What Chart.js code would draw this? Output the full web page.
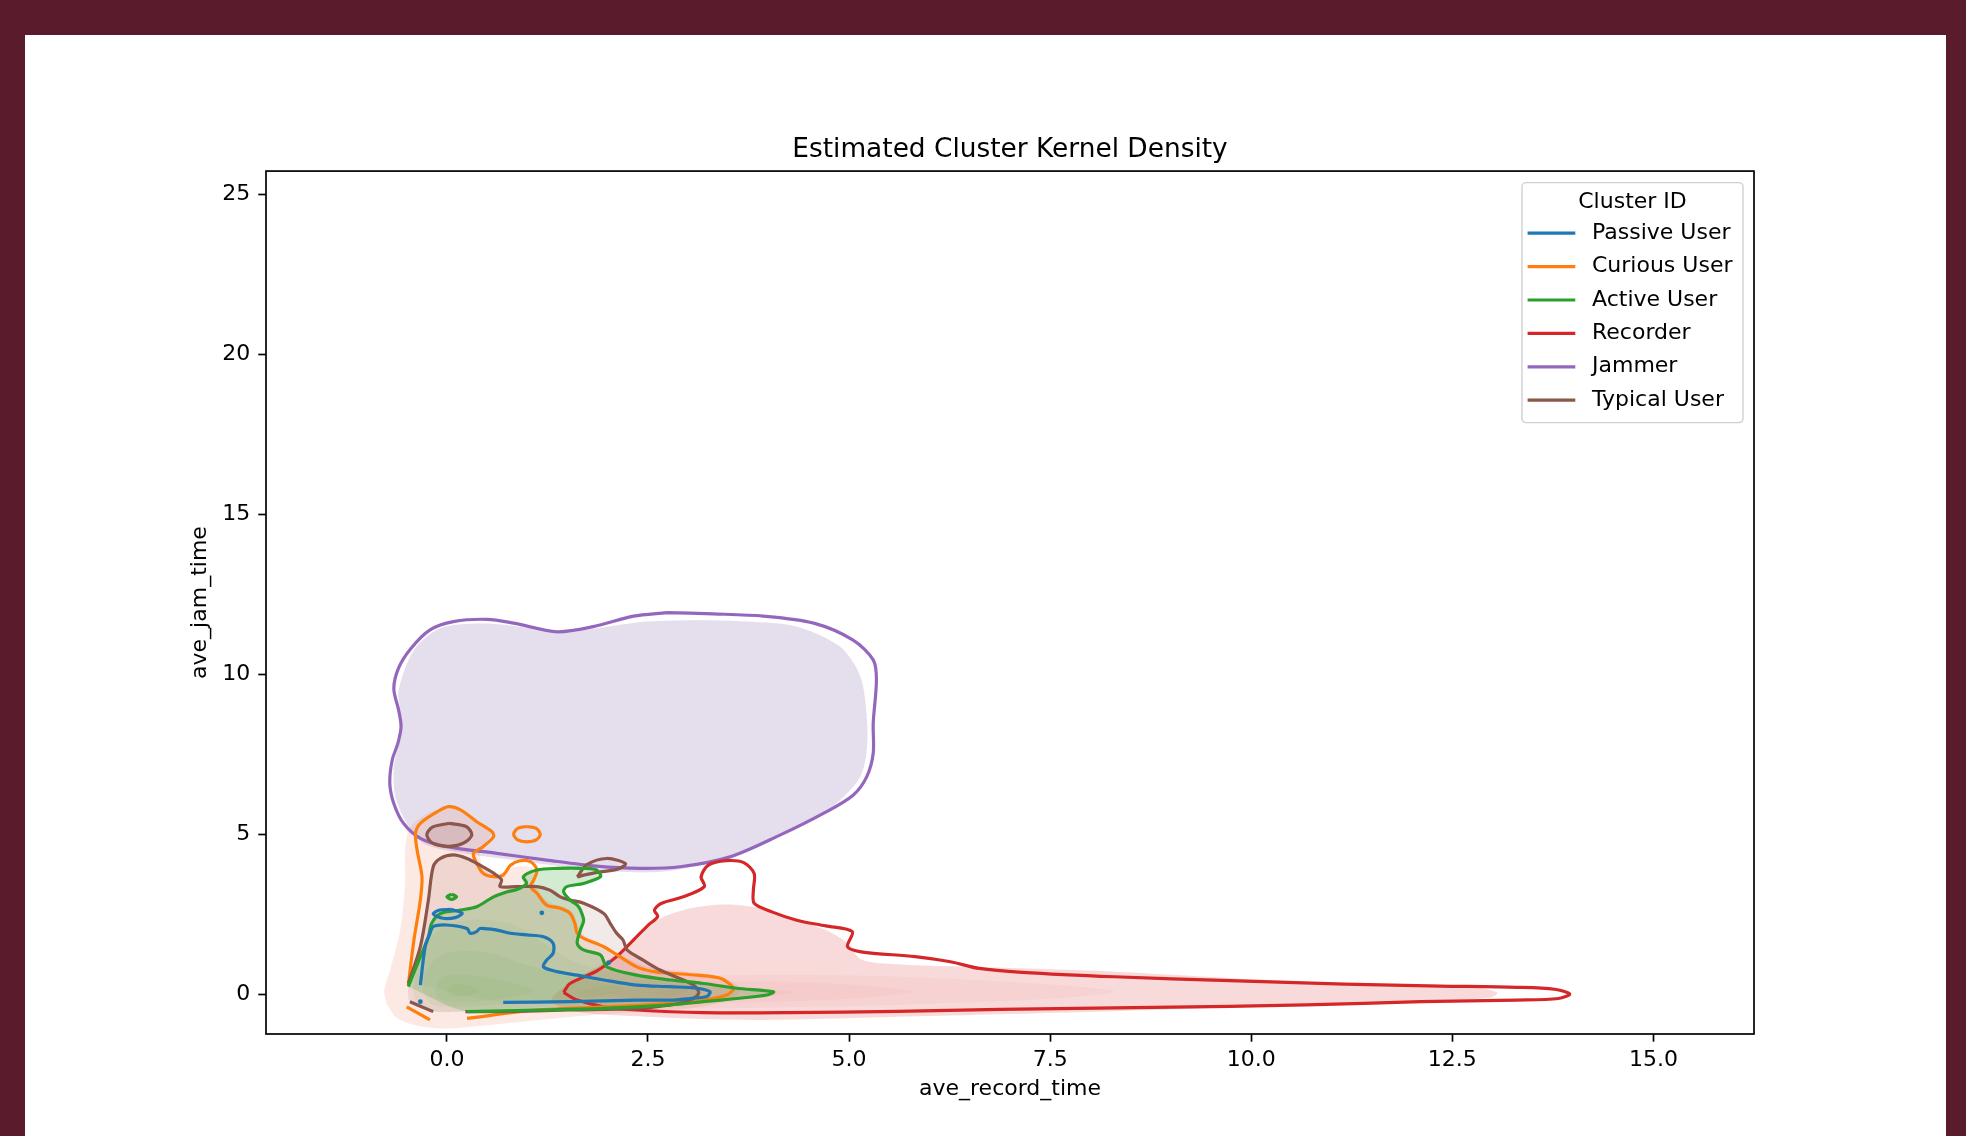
<!DOCTYPE html>
<html>
<head>
<meta charset="utf-8">
<script src="https://cdn.jsdelivr.net/npm/chart.js@4.4.0/dist/chart.umd.min.js"></script>
<style>
  html, body { margin: 0; padding: 0; background: #5a1b2c; }
  .page { position: relative; width: 1966px; height: 1136px; overflow: hidden; }
  .card { position: absolute; left: 25px; top: 35px; width: 1921px; height: 1101px; background: #fff; }
  #kde { position: absolute; left: 0; top: 0; }
</style>
</head>
<body>
<div class="page">
  <div class="card"></div>
  <canvas id="kde" width="1966" height="1136"></canvas>
</div>
<script>
// 축 눈금
const xTicks = [0, 2.5, 5, 7.5, 10, 12.5, 15];
const yTicks = [0, 5, 10, 15, 20, 25];

// 클러스터 이름/색
const clusterNames = ['Passive User', 'Curious User', 'Active User', 'Recorder', 'Jammer', 'Typical User'];
const clusterColors = ['#1f77b4', '#ff7f0e', '#2ca02c', '#d62728', '#9467bd', '#8c564b'];

// 윤곽선 (x, y) - null 은 선이 끊기는 곳
const passiveLine = [[-0.33,0.28],[-0.27,1.48],[-0.21,1.90],[-0.17,2.11],[0.00,2.16],[0.25,2.05],[0.29,1.90],[0.37,1.95],[0.41,2.05],[0.62,2.00],[0.79,1.90],[0.99,1.85],[1.20,1.79],[1.32,1.59],[1.32,1.27],[1.24,1.06],[1.20,0.85],[1.37,0.70],[1.62,0.59],[1.95,0.44],[2.36,0.28],[2.78,0.23],[3.11,0.18],[3.27,0.07],[3.23,-0.08],[3.02,-0.14],[2.78,-0.19],[2.36,-0.19],[1.53,-0.24],[0.70,-0.26]];
const passiveLoop = [[0.05,2.65],[0.19,2.53],[0.10,2.39],[-0.05,2.37],[-0.17,2.50],[-0.10,2.62],[0.05,2.65]];
const passiveDots = [[1.18,2.54],[2.01,0.98],[-0.33,-0.24]];

const curiousLine = [[-0.48,0.28],[-0.41,1.69],[-0.33,2.94],[-0.31,3.67],[-0.37,4.50],[-0.39,5.03],[-0.33,5.34],[-0.12,5.70],[0.02,5.86],[0.17,5.76],[0.37,5.39],[0.56,5.08],[0.58,4.92],[0.45,4.61],[0.33,4.40],[0.37,4.09],[0.45,3.78],[0.58,3.67],[0.70,3.72],[0.79,4.03],[0.91,4.17],[1.04,4.14],[1.12,3.88],[1.08,3.57],[1.04,3.36],[1.12,3.15],[1.24,2.78],[1.41,2.68],[1.53,2.52],[1.59,2.21],[1.62,1.90],[1.70,1.74],[1.95,1.48],[2.15,1.17],[2.36,0.85],[2.57,0.70],[2.78,0.65],[3.11,0.59],[3.40,0.49],[3.56,0.18],[3.48,-0.03],[3.19,-0.19],[2.78,-0.29],[1.95,-0.40],[1.12,-0.50],[0.25,-0.76],null,[-0.21,-0.81],[-0.50,-0.40]];
const curiousLoop = [[0.99,5.24],[1.11,5.18],[1.16,5.00],[1.11,4.82],[0.99,4.76],[0.88,4.82],[0.83,5.00],[0.88,5.18],[0.99,5.24]];

const activeLine = [[-0.48,0.23],[-0.33,1.17],[-0.23,1.79],[-0.19,2.21],[-0.08,2.52],[0.17,2.63],[0.37,2.73],[0.58,3.04],[0.75,3.20],[0.87,3.27],[0.99,3.46],[0.95,3.67],[1.12,3.88],[1.37,3.93],[1.70,3.93],[1.86,3.88],[1.91,3.67],[1.70,3.46],[1.49,3.36],[1.45,3.20],[1.53,2.94],[1.62,2.78],[1.66,2.63],[1.70,2.31],[1.66,2.00],[1.62,1.59],[1.70,1.38],[1.91,1.22],[1.99,0.85],[2.36,0.59],[2.78,0.44],[3.19,0.33],[3.60,0.18],[4.06,0.07],[3.98,-0.03],[3.60,-0.14],[3.19,-0.24],[2.78,-0.34],[1.95,-0.45],[1.12,-0.50],[0.25,-0.55]];
const activeLoop = [[0.06,3.12],[0.12,3.04],[0.06,2.96],[0.00,3.04],[0.06,3.12]];

const recorderLine = [[1.45,0.05],[1.53,0.33],[1.86,0.72],[2.11,1.17],[2.32,1.69],[2.50,2.15],[2.62,2.42],[2.58,2.63],[2.67,2.84],[2.94,3.04],[3.20,3.36],[3.16,3.67],[3.25,4.03],[3.47,4.17],[3.69,4.11],[3.82,3.77],[3.81,3.25],[3.82,2.84],[4.04,2.57],[4.35,2.31],[4.71,2.13],[5.04,1.95],[4.98,1.48],[5.15,1.32],[5.82,1.17],[6.26,1.01],[6.62,0.80],[7.15,0.68],[8.30,0.54],[9.73,0.42],[11.16,0.31],[12.35,0.25],[13.30,0.21],[13.77,0.15],[13.96,0.00],[13.82,-0.14],[13.30,-0.19],[12.11,-0.24],[10.68,-0.34],[8.78,-0.42],[6.88,-0.48],[5.60,-0.54],[4.24,-0.58],[3.19,-0.58],[2.36,-0.50],[1.95,-0.40],[1.62,-0.19],[1.45,0.05]];

const jammerLine = [[2.73,11.93],[3.31,11.89],[3.93,11.82],[4.56,11.60],[5.05,11.07],[5.30,10.45],[5.34,9.82],[5.30,8.47],[5.30,7.53],[5.22,6.80],[5.05,6.22],[4.68,5.65],[4.14,4.97],[3.52,4.29],[2.90,3.98],[2.40,3.93],[1.86,4.00],[1.24,4.19],[0.62,4.40],[0.00,4.61],[-0.33,4.87],[-0.54,5.34],[-0.66,5.96],[-0.71,6.59],[-0.68,7.32],[-0.61,7.84],[-0.57,8.36],[-0.60,8.88],[-0.66,9.55],[-0.60,10.20],[-0.45,10.80],[-0.21,11.39],[0.08,11.65],[0.50,11.72],[0.83,11.60],[1.37,11.33],[1.82,11.49],[2.32,11.82],[2.73,11.93]];

const typicalLine = [[-0.48,0.33],[-0.33,1.48],[-0.23,2.94],[-0.17,3.98],[-0.08,4.24],[0.08,4.35],[0.25,4.24],[0.41,4.03],[0.58,3.78],[0.68,3.57],[0.66,3.36],[0.87,3.36],[1.12,3.36],[1.28,3.25],[1.41,3.04],[1.53,2.94],[1.70,2.84],[1.95,2.52],[2.03,2.21],[2.11,1.90],[2.19,1.69],[2.24,1.38],[2.44,1.06],[2.65,0.75],[2.94,0.44],[3.09,0.23],[3.13,0.02],[3.02,-0.19],[2.78,-0.34],[2.36,-0.45],[1.53,-0.50],[0.70,-0.55],[0.23,-0.55],null,[-0.17,-0.55],[-0.46,-0.24]];
const typicalLoopA = [[0.03,5.34],[0.24,5.24],[0.31,4.98],[0.22,4.74],[0.03,4.62],[-0.18,4.72],[-0.25,4.98],[-0.18,5.22],[0.03,5.34]];
const typicalLoopB = [[1.62,3.66],[1.74,4.05],[1.99,4.24],[2.22,4.08],[2.12,3.90],[1.91,3.82],[1.70,3.72],[1.62,3.66]];

// 채워진 밀도 영역
const jammerFill = [[3.11,11.70],[3.73,11.65],[4.35,11.49],[4.89,10.86],[5.14,9.93],[5.22,8.67],[5.22,7.63],[5.14,6.80],[4.89,6.07],[4.56,5.44],[3.93,4.71],[3.31,4.14],[2.69,3.83],[2.07,3.83],[1.45,3.98],[0.83,4.19],[0.21,4.40],[-0.29,4.71],[-0.50,5.34],[-0.64,6.17],[-0.66,7.11],[-0.58,8.05],[-0.58,8.88],[-0.60,9.51],[-0.41,10.76],[-0.08,11.44],[0.41,11.59],[0.91,11.49],[1.37,11.28],[1.86,11.44],[2.49,11.65],[3.11,11.70]];
const recorderFill = [[2.27,1.48],[2.62,2.31],[2.94,2.63],[3.29,2.78],[3.64,2.78],[4.00,2.63],[4.35,2.31],[4.71,2.00],[4.98,1.59],[5.15,1.08],[5.60,0.93],[6.93,0.82],[8.30,0.70],[10.20,0.44],[11.63,0.29],[12.82,0.19],[13.06,0.04],[12.96,-0.12],[11.63,-0.27],[9.73,-0.42],[7.83,-0.57],[5.60,-0.71],[3.82,-0.81],[2.49,-0.71],[1.60,-0.55],[1.30,-0.20],[1.50,0.30],[1.90,0.90],[2.27,1.48]];
const recorderInner = [
  [[1.60,0.05],[2.20,0.35],[3.00,0.55],[4.50,0.60],[6.00,0.50],[7.50,0.30],[8.30,0.08],[7.50,-0.15],[6.00,-0.30],[4.50,-0.40],[3.00,-0.45],[2.00,-0.35],[1.60,0.05]],
  [[2.00,0.05],[3.00,0.35],[4.00,0.40],[5.00,0.30],[5.80,0.08],[5.00,-0.15],[4.00,-0.25],[3.00,-0.30],[2.30,-0.20],[2.00,0.05]],
  [[2.50,0.05],[3.20,0.20],[3.90,0.15],[4.30,0.05],[3.80,-0.10],[3.00,-0.15],[2.50,0.05]]
];
const curiousFill = [[-0.75,-0.30],[-0.78,0.10],[-0.70,0.80],[-0.58,2.00],[-0.52,3.50],[-0.52,4.50],[-0.46,5.20],[-0.20,5.70],[0.05,5.80],[0.30,5.55],[0.55,5.05],[0.42,4.50],[0.45,3.95],[0.62,3.72],[0.80,3.95],[1.05,3.95],[1.10,3.40],[1.25,2.90],[1.55,2.60],[1.68,1.90],[2.10,1.30],[2.50,0.85],[3.00,0.70],[3.45,0.50],[3.65,0.15],[3.50,-0.20],[3.00,-0.45],[2.00,-0.62],[1.00,-0.85],[0.40,-1.00],[0.00,-1.08],[-0.35,-1.00],[-0.62,-0.75],[-0.75,-0.30]];
const coreInner = [
  [[-0.42,0.10],[-0.36,1.00],[-0.20,1.80],[0.20,2.30],[0.80,2.20],[1.20,1.60],[1.60,1.00],[2.40,0.50],[3.00,0.15],[2.60,-0.20],[1.50,-0.35],[0.50,-0.50],[-0.10,-0.55],[-0.36,-0.35],[-0.42,0.10]],
  [[-0.30,0.10],[-0.25,0.80],[0.00,1.30],[0.50,1.30],[1.00,0.90],[1.60,0.50],[2.20,0.15],[1.60,-0.15],[0.80,-0.30],[0.10,-0.40],[-0.20,-0.30],[-0.30,0.10]],
  [[-0.15,0.10],[-0.05,0.55],[0.30,0.60],[0.80,0.35],[1.10,0.10],[0.70,-0.15],[0.20,-0.25],[-0.10,-0.15],[-0.15,0.10]],
  [[0.00,0.10],[0.10,0.30],[0.30,0.25],[0.40,0.10],[0.25,-0.05],[0.05,-0.05],[0.00,0.10]]
];

// 도우미
function toPts(arr) {
  let last = 0;
  return arr.map(p => {
    if (!p) return {x: last, y: null};
    last = p[0];
    return {x: p[0], y: p[1]};
  });
}
function ring(arr) {
  const pts = arr.filter(p => p);
  return pts.concat([pts[0]]);
}
function fillSet(pts, color, order) {
  return {data: toPts(pts), showLine: true, fill: 'shape', backgroundColor: color,
    borderWidth: 0, pointRadius: 0, tension: 0.3, order: order};
}
function lineSet(pts, color, order) {
  return {data: toPts(pts), showLine: true, fill: false, borderColor: color,
    borderWidth: 3.2, pointRadius: 0, tension: 0.3, order: order};
}

const datasets = [];
// 선 (위에 그려짐)
datasets.push(lineSet(passiveLine, clusterColors[0], 1));
datasets.push(lineSet(passiveLoop, clusterColors[0], 1));
datasets.push({data: toPts(passiveDots), showLine: false, pointRadius: 2.4, pointBorderWidth: 0,
  backgroundColor: clusterColors[0], order: 1});
datasets.push(lineSet(curiousLine, clusterColors[1], 2));
datasets.push(lineSet(curiousLoop, clusterColors[1], 2));
datasets.push(lineSet(activeLine, clusterColors[2], 1));
datasets.push(lineSet(activeLoop, clusterColors[2], 1));
datasets.push(lineSet(recorderLine, clusterColors[3], 3));
datasets.push(lineSet(jammerLine, clusterColors[4], 3));
datasets.push(lineSet(typicalLine, clusterColors[5], 1));
datasets.push(lineSet(typicalLoopA, clusterColors[5], 1));
datasets.push(lineSet(typicalLoopB, clusterColors[5], 1));
// 채우기 (아래에 그려짐)
datasets.push(fillSet(jammerFill, 'rgba(150,125,185,0.25)', 30));
datasets.push(fillSet(recorderFill, 'rgba(214,50,50,0.18)', 29));
recorderInner.forEach(r => datasets.push(fillSet(r, 'rgba(214,39,40,0.045)', 28)));
datasets.push(fillSet(curiousFill, 'rgba(235,120,85,0.16)', 27));
datasets.push(fillSet(ring(typicalLine), 'rgba(150,80,70,0.12)', 26));
datasets.push(fillSet(typicalLoopA, 'rgba(140,86,75,0.16)', 26));
datasets.push(fillSet(ring(activeLine), 'rgba(44,160,44,0.21)', 25));
datasets.push(fillSet(ring(passiveLine), 'rgba(60,150,70,0.05)', 24));
coreInner.forEach(r => datasets.push(fillSet(r, 'rgba(90,150,50,0.07)', 23)));

const font = {family: 'DejaVu Sans', size: 22};

// 축 테두리 (사방)
const frame = {
  id: 'frame',
  afterDatasetsDraw(chart) {
    const {ctx, chartArea: a} = chart;
    ctx.save();
    ctx.strokeStyle = '#000';
    ctx.lineWidth = 1.7;
    ctx.strokeRect(a.left, a.top, a.right - a.left, a.bottom - a.top);
    ctx.restore();
  }
};

// 범례 (플롯 안 오른쪽 위)
const legendBox = {
  id: 'legendBox',
  afterDraw(chart) {
    const {ctx, chartArea: a} = chart;
    const w = 221, h = 240;
    const x0 = a.right - 11 - w, y0 = a.top + 11.5;
    ctx.save();
    ctx.beginPath();
    ctx.roundRect(x0, y0, w, h, 4);
    ctx.fillStyle = 'rgba(255,255,255,0.8)';
    ctx.fill();
    ctx.strokeStyle = '#d0d0d0';
    ctx.lineWidth = 1.4;
    ctx.stroke();
    ctx.font = '22px "DejaVu Sans"';
    ctx.fillStyle = '#000';
    ctx.textBaseline = 'middle';
    ctx.textAlign = 'center';
    ctx.fillText('Cluster ID', x0 + w / 2, y0 + 19.6);
    ctx.textAlign = 'left';
    clusterNames.forEach((name, i) => {
      const y = y0 + 50.6 + i * 33.4;
      ctx.strokeStyle = clusterColors[i];
      ctx.lineWidth = 3.2;
      ctx.beginPath();
      ctx.moveTo(x0 + 5.6, y);
      ctx.lineTo(x0 + 53.3, y);
      ctx.stroke();
      ctx.fillStyle = '#000';
      ctx.fillText(name, x0 + 70, y);
    });
    ctx.restore();
  }
};

Chart.defaults.font.family = 'DejaVu Sans';

const kdeChart = new Chart(document.getElementById('kde').getContext('2d'), {
  type: 'scatter',
  data: {datasets: datasets},
  plugins: [frame, legendBox],
  options: {
    responsive: false,
    animation: false,
    devicePixelRatio: 1,
    events: [],
    layout: {padding: {top: 134.7, left: 0, right: 212, bottom: 0}},
    plugins: {
      legend: {display: false},
      tooltip: {enabled: false},
      title: {
        display: true,
        fullSize: false,
        text: 'Estimated Cluster Kernel Density',
        color: '#000',
        font: {family: 'DejaVu Sans', size: 26.4, weight: 'normal'},
        padding: {top: 0, bottom: 4.7}
      }
    },
    scales: {
      x: {
        type: 'linear',
        min: -2.249,
        max: 16.25,
        afterBuildTicks: s => { s.ticks = xTicks.map(v => ({value: v})); },
        afterFit: s => { s.height = 102; },
        ticks: {font: font, color: '#000', padding: 5, maxRotation: 0, autoSkip: false,
          callback: v => Number(v).toFixed(1)},
        grid: {drawOnChartArea: false, drawTicks: true, tickLength: 7.7, tickWidth: 1.7, tickColor: '#000'},
        border: {display: false},
        title: {display: true, text: 'ave_record_time', color: '#000', font: font,
          padding: {top: 0, bottom: 33.2}}
      },
      y: {
        type: 'linear',
        min: -1.25,
        max: 25.74,
        afterBuildTicks: s => { s.ticks = yTicks.map(v => ({value: v})); },
        afterFit: s => { s.width = 266; },
        ticks: {font: font, color: '#000', padding: 8, autoSkip: false},
        grid: {drawOnChartArea: false, drawTicks: true, tickLength: 7.7, tickWidth: 1.7, tickColor: '#000'},
        border: {display: false},
        title: {display: true, text: 'ave_jam_time', color: '#000', font: font,
          padding: {top: 187.4, bottom: 0}}
      }
    }
  }
});
</script>
</body>
</html>
